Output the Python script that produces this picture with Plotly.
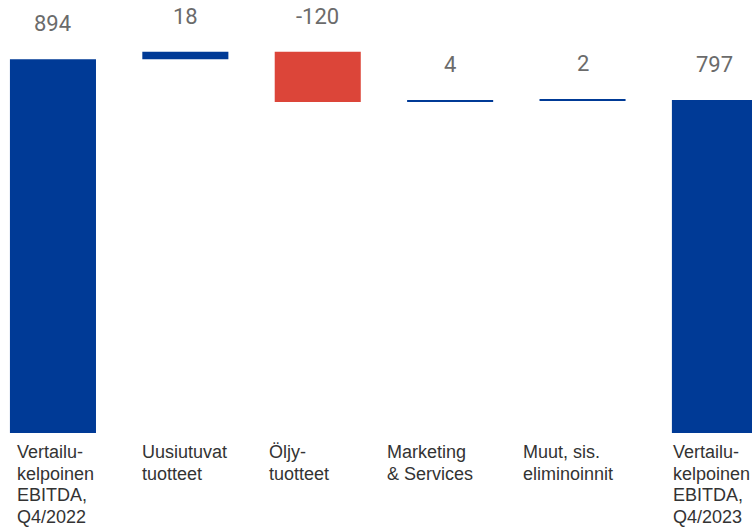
import plotly.graph_objects as go

categories = ["Vertailu-<br>kelpoinen<br>EBITDA,<br>Q4/2022",
              "Uusiutuvat<br>tuotteet",
              "Öljy-<br>tuotteet",
              "Marketing<br>& Services",
              "Muut, sis.<br>eliminoinnit",
              "Vertailu-<br>kelpoinen<br>EBITDA,<br>Q4/2023"]
values = [894, 18, -120, 4, 2, 797]
measures = ["absolute", "relative", "relative", "relative", "relative", "absolute"]
value_labels = ["894", "18", "-120", "4", "2", "797"]

BLUE = "#003A96"
RED = "#DC4539"

xs = list(range(len(categories)))

fig = go.Figure(go.Waterfall(
    x=xs, y=values, measure=measures,
    increasing=dict(marker=dict(color=BLUE)),
    decreasing=dict(marker=dict(color=RED)),
    totals=dict(marker=dict(color=BLUE)),
    connector=dict(visible=False),
    hoverinfo="skip",
))

# label tops from cumulative data
tops = []
cum = 0
for v, m in zip(values, measures):
    if m == "absolute":
        start, cum = 0, v
    else:
        start, cum = cum, cum + v
    tops.append(max(start, cum))

annotations = []
for i, (t, lab) in enumerate(zip(tops, value_labels)):
    annotations.append(dict(x=i, y=t, xref="x", yref="y", text=lab, showarrow=False,
                            yanchor="bottom", xanchor="center", yshift=21,
                            font=dict(family="Roboto", size=22, color="#6b6b6b")))

half_w = 0.325
label_shift = [7, 0, -6, -20, -17, 1]
line_gap = 21.5
for i, c in enumerate(categories):
    for k, line in enumerate(c.split("<br>")):
        annotations.append(dict(x=i - half_w, y=0, xref="x", yref="paper", text=line, showarrow=False,
                                xanchor="left", yanchor="top", align="left", borderpad=0,
                                xshift=label_shift[i] - 1, yshift=-8 - line_gap * k,
                                font=dict(family="Liberation Sans, Arial", size=18, color="#333333")))

fig.update_layout(
    width=752, height=527,
    margin=dict(l=0, r=0, t=0, b=94),
    paper_bgcolor="white", plot_bgcolor="white",
    waterfallgap=0.35,
    showlegend=False,
    xaxis=dict(range=[-0.4, 5.28], showticklabels=False, showgrid=False, zeroline=False,
               showline=False, ticks=""),
    yaxis=dict(range=[0, 1036], visible=False, showgrid=False, zeroline=False),
    annotations=annotations,
)

fig.write_html("out.html", config={"displayModeBar": False},
               post_script="document.body.style.margin='0';document.body.style.overflow='hidden';")
